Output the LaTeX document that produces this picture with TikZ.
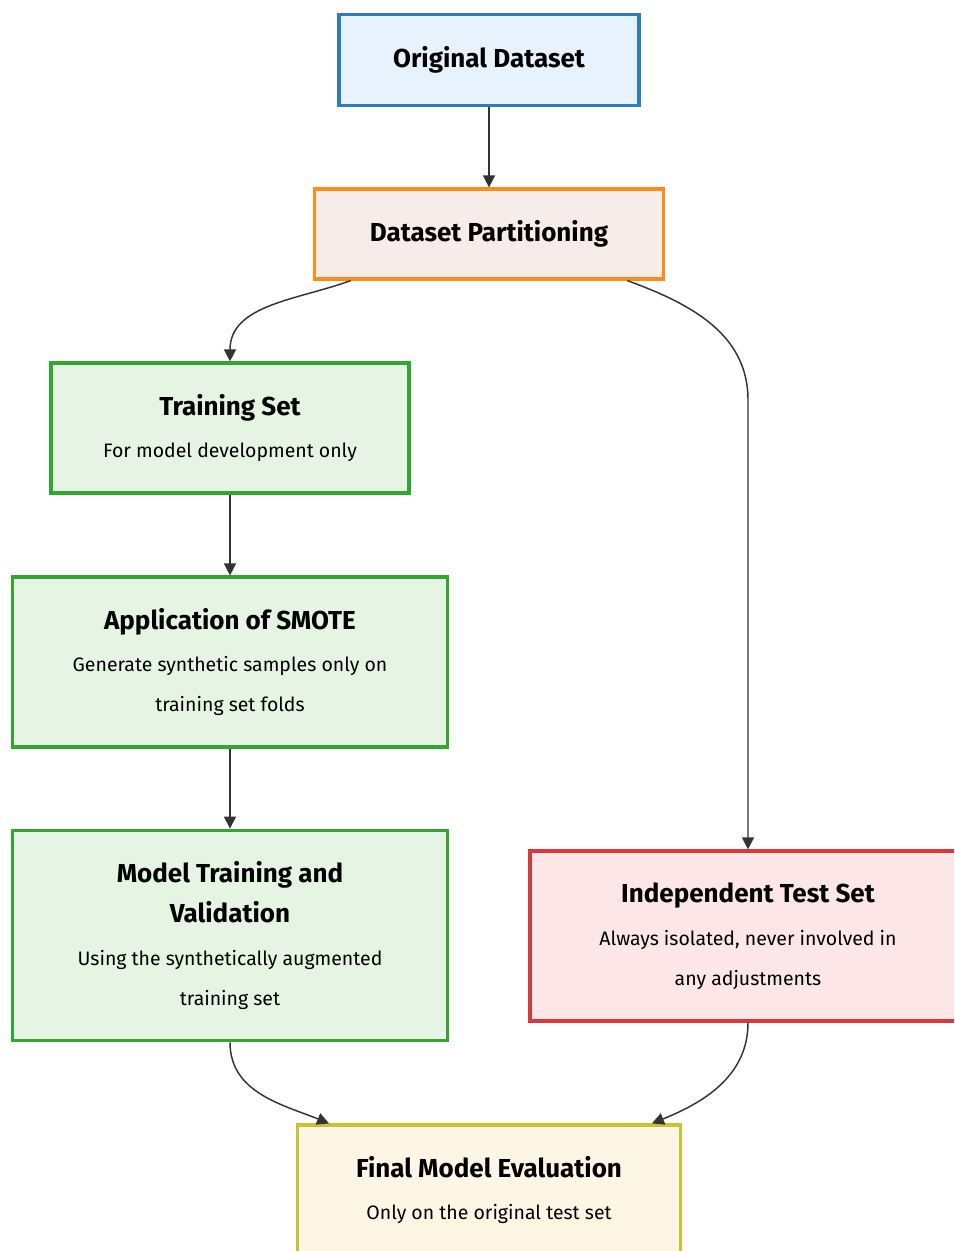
\documentclass[tikz,border=0pt]{standalone}
\usepackage{fontspec}
\setmainfont{Fira Sans}
\usetikzlibrary{arrows.meta}

\definecolor{origline}{HTML}{2E7BBF}
\definecolor{origfill}{HTML}{E8F2FC}
\definecolor{partline}{HTML}{FF8C1A}
\definecolor{partfill}{HTML}{F8ECE8}
\definecolor{trainline}{HTML}{33A632}
\definecolor{trainfill}{HTML}{E6F5E3}
\definecolor{testline}{HTML}{D9383C}
\definecolor{testfill}{HTML}{FCE6E8}
\definecolor{evalline}{HTML}{C9C231}
\definecolor{evalfill}{HTML}{FEF6E5}
\definecolor{linkgray}{HTML}{333333}

\newcommand{\hd}{\fontsize{19.5}{30}\selectfont\bfseries}

\begin{document}
\begin{tikzpicture}[x=0.75pt, y=0.75pt,
    box/.style={draw, line width=2.4pt, align=center, inner sep=0pt,
      font=\fontsize{14.6}{30}\selectfont},
    link/.style={draw=linkgray, line width=1.1pt, -{Triangle[length=9pt, width=9pt]}}]
      \clip (0, 0) rectangle (954, -1251);

      \node[box, draw=origline, fill=origfill, minimum width=225pt, minimum height=68pt] (orig) at (489, -60) {{\hd Original Dataset}};
      \node[box, draw=partline, fill=partfill, minimum width=262pt, minimum height=67.5pt] (part) at (489, -234) {{\hd Dataset Partitioning}};
      \node[box, draw=trainline, fill=trainfill, minimum width=268.5pt, minimum height=97.5pt] (train) at (230, -428) {{\hd Training Set}\\[2pt] For model development only};
      \node[box, draw=trainline, fill=trainfill, minimum width=326pt, minimum height=127.5pt] (smote) at (230, -662) {{\hd Application of SMOTE}\\[2pt] Generate synthetic samples only on\\ training set folds};
      \node[box, draw=trainline, fill=trainfill, minimum width=326pt, minimum height=158pt] (model) at (230, -935.5) {{\hd Model Training and}\\ {\hd Validation}\\[2pt] Using the synthetically augmented\\ training set};
      \node[box, draw=testline, fill=testfill, minimum width=327pt, minimum height=127.5pt] (test) at (748, -936) {{\hd Independent Test Set}\\[2pt] Always isolated, never involved in\\ any adjustments};
      \node[box, draw=evalline, fill=evalfill, minimum width=287pt, minimum height=97.5pt] (final) at (489, -1190) {{\hd Final Model Evaluation}\\[2pt] Only on the original test set};

      \coordinate (bendR) at (748, -400);

      \draw[link] (orig) -- (part);
      \draw[link] ([xshift=28.5pt]part.south west) to[out=200, in=90] (train.north);
      \draw[link] ([xshift=-28.5pt]part.south east) to[out=-20, in=90] (bendR) -- (test.north);
      \draw[link] (train) -- (smote);
      \draw[link] (smote) -- (model);
      \draw[link] (model.south) to[out=-90, in=158] ([xshift=24.75pt]final.north west);
      \draw[link] (test.south) to[out=-90, in=22] ([xshift=-22.5pt]final.north east);
\end{tikzpicture}
\end{document}
